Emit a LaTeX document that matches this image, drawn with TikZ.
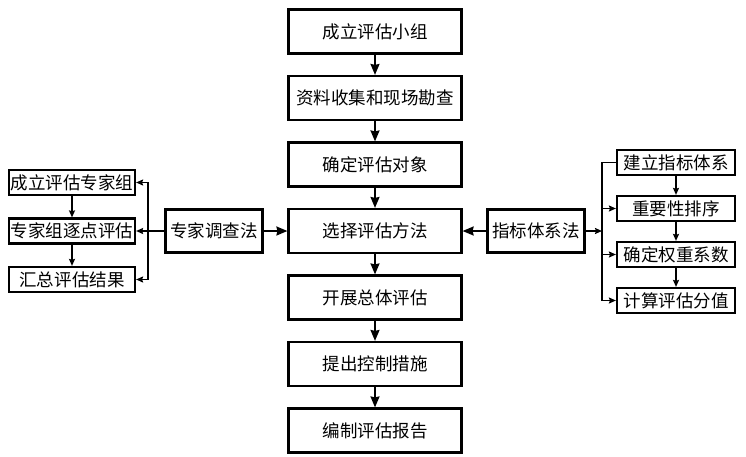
\documentclass[tikz,border=0pt]{standalone}
\usepackage{fontspec}
\setmainfont{Noto Sans CJK SC}
\usetikzlibrary{arrows.meta,positioning}

\begin{document}
\begin{tikzpicture}[x=1pt,y=-1pt,->,>={Stealth[length=7pt,width=6pt,inset=1pt]},
                    line width=1.8pt,node distance=66.5pt]
  \tikzstyle{every node}=[font=\fontsize{17.5pt}{19pt}\selectfont,inner sep=0pt]
  \tikzstyle{mainbox}=[draw,line width=2.2pt,minimum width=173pt,minimum height=44pt]
  \tikzstyle{methodbox}=[draw,line width=2.2pt,minimum width=97pt,minimum height=43pt]
  \tikzstyle{subbox}=[draw,line width=2.2pt,minimum height=25pt]
  \tikzstyle{bigtip}=[-{Stealth[length=11pt,width=9pt,inset=1pt]}]

  \useasboundingbox (0,0) rectangle (746,456);

  % main chain
  \node[mainbox] (team)   at (375,31.5)       {成立评估小组};
  \node[mainbox] (data)   [below of=team]     {资料收集和现场勘查};
  \node[mainbox] (object) [below of=data]     {确定评估对象};
  \node[mainbox] (method) [below of=object]   {选择评估方法};
  \node[mainbox] (eval)   [below of=method]   {开展总体评估};
  \node[mainbox] (ctrl)   [below of=eval]     {提出控制措施};
  \node[mainbox] (report) [below of=ctrl]     {编制评估报告};

  % two methods
  \node[methodbox] (expert) at (214,231) {专家调查法};
  \node[methodbox] (index)  at (536,231) {指标体系法};

  % expert steps
  \node[subbox,minimum width=126pt] (e2) at (72,231) {专家组逐点评估};
  \node[subbox,minimum width=126pt] (e1) [above of=e2,node distance=48.5pt] {成立评估专家组};
  \node[subbox,minimum width=126pt] (e3) [below of=e2,node distance=48.5pt] {汇总评估结果};

  % index steps
  \node[subbox,minimum width=118pt] (i1) at (676,162.5) {建立指标体系};
  \node[subbox,minimum width=118pt] (i2) [below of=i1,node distance=46pt] {重要性排序};
  \node[subbox,minimum width=118pt] (i3) [below of=i2,node distance=46pt] {确定权重系数};
  \node[subbox,minimum width=118pt] (i4) [below of=i3,node distance=46pt] {计算评估分值};

  \coordinate (lbus) at (148,231);
  \coordinate (rbus) at (602,231);

  \path[bigtip] (team)   edge (data)
                (data)   edge (object)
                (object) edge (method)
                (method) edge (eval)
                (eval)   edge (ctrl)
                (ctrl)   edge (report)
                (expert) edge (method)
                (index)  edge (method);
  \path (e1) edge (e2)
        (e2) edge (e3)
        (i1) edge (i2)
        (i2) edge (i3)
        (i3) edge (i4);

  \draw (expert) -- (e2);
  \draw (lbus) |- (e1.east);
  \draw (lbus) |- (e3.east);

  \draw (index) -- (rbus);
  \draw[-] (rbus) |- (i1.west);
  \draw (rbus |- i2) -- (i2.west);
  \draw (rbus |- i3) -- (i3.west);
  \draw (rbus) |- (i4.west);
\end{tikzpicture}
\end{document}
